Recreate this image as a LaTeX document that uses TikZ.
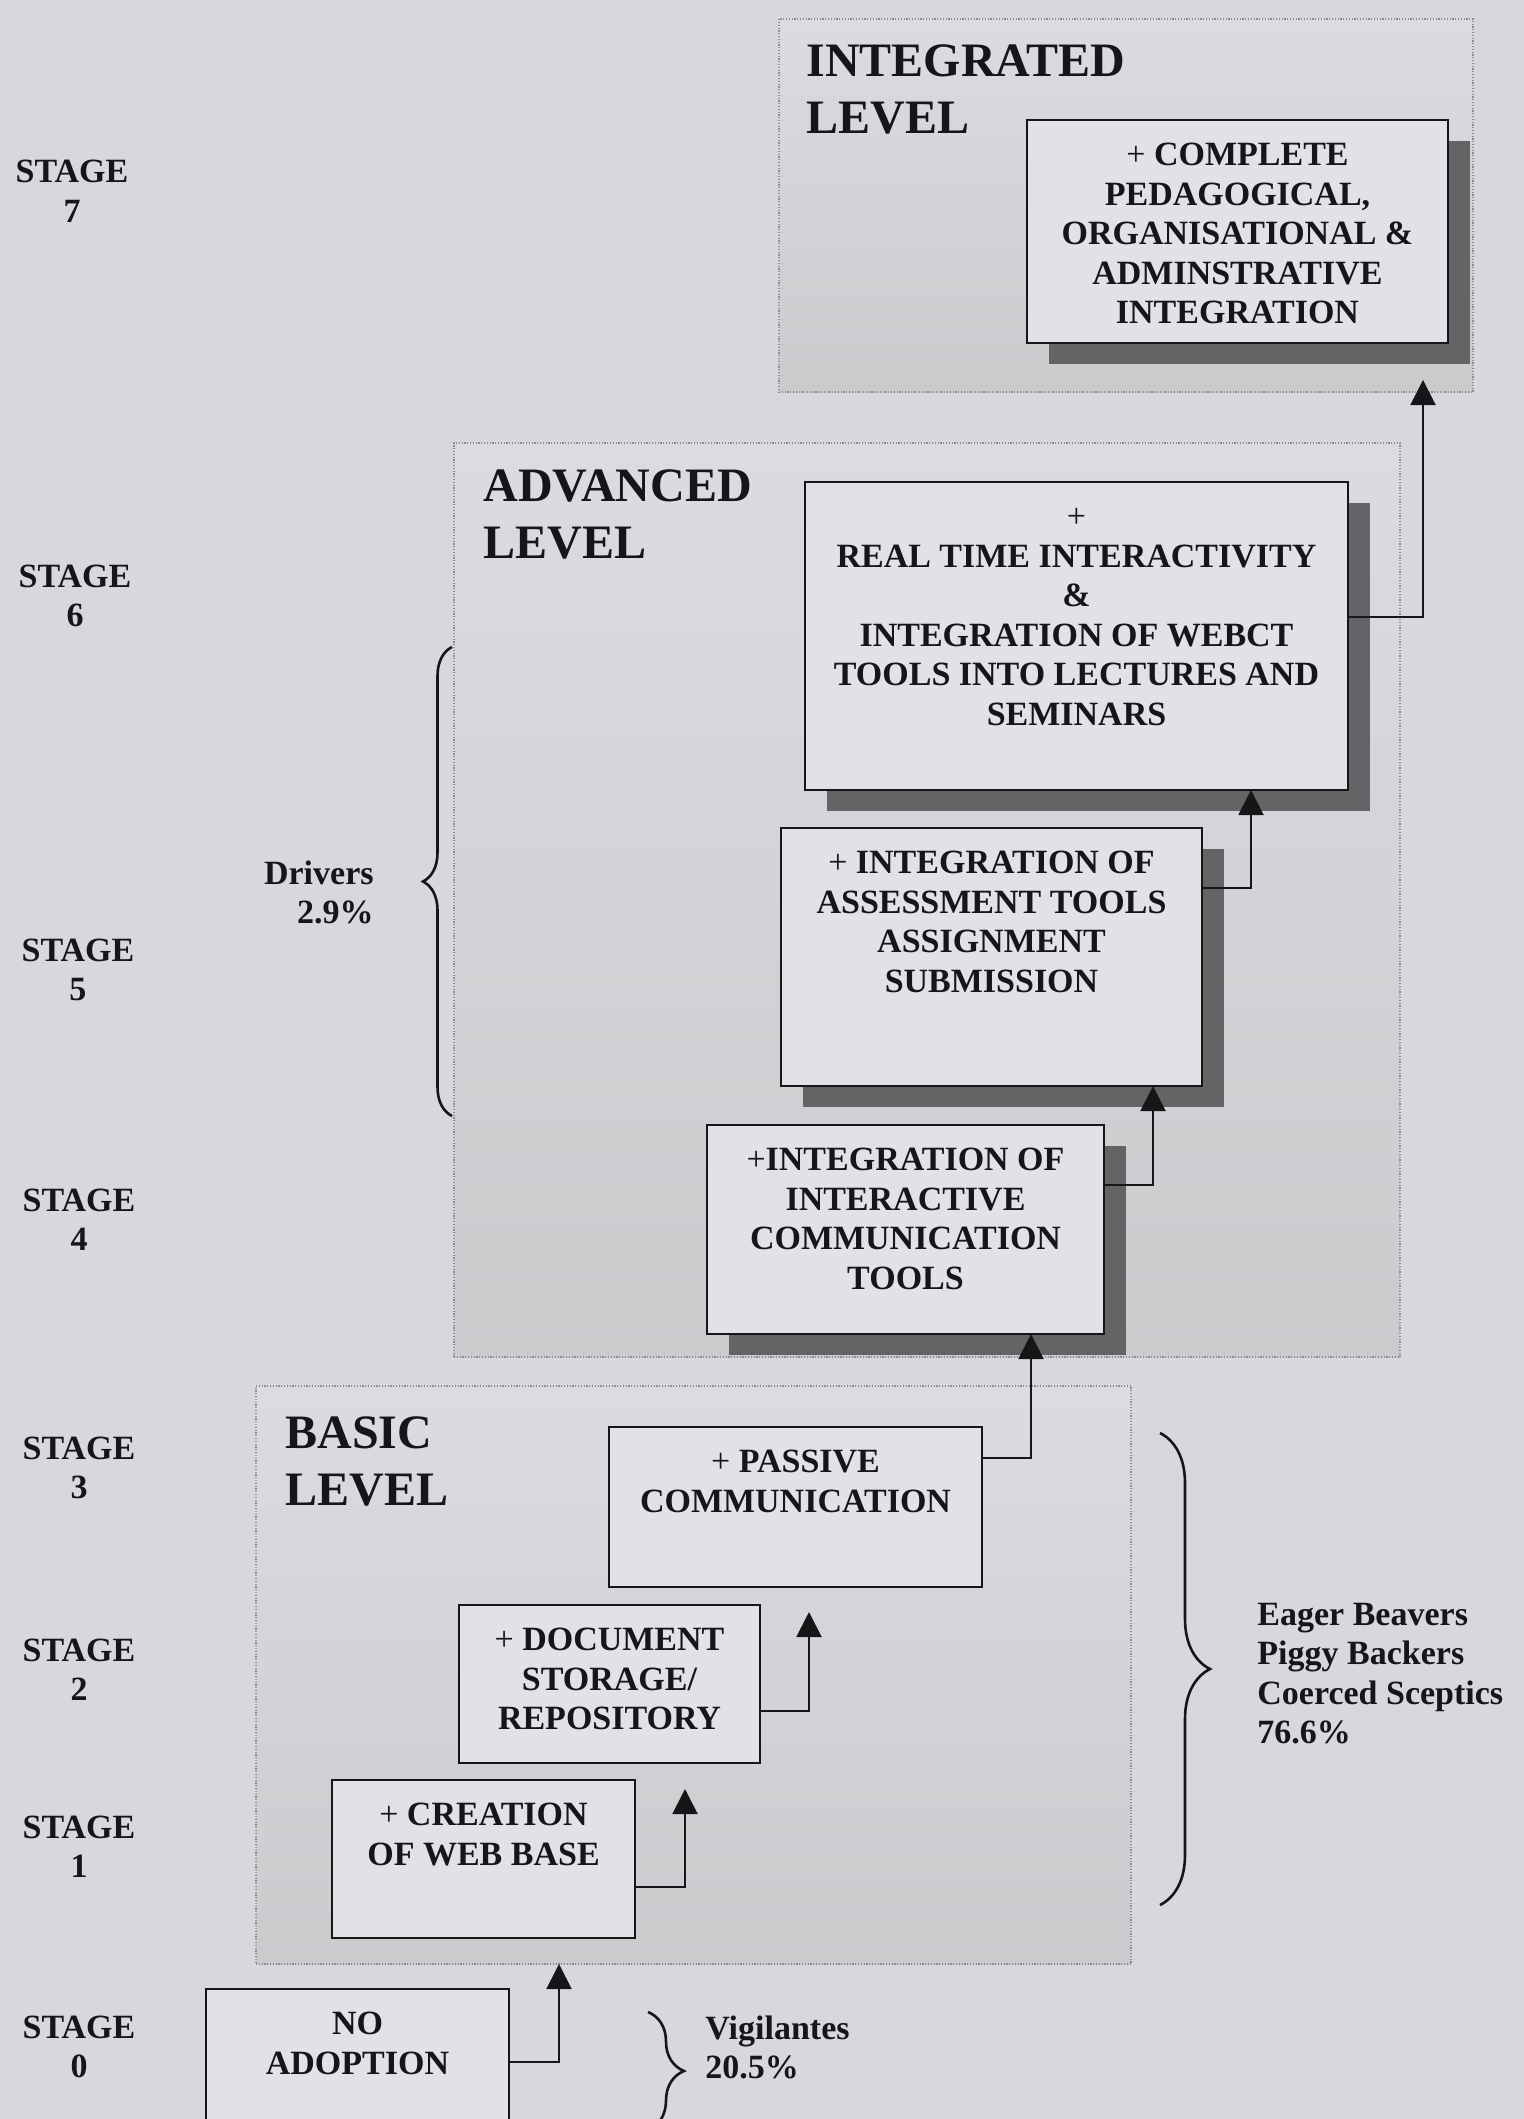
\documentclass[tikz,border=0pt]{standalone}
\usepackage{fontspec}
\setmainfont{Liberation Serif}
\usetikzlibrary{arrows.meta,decorations.pathreplacing,fit}

\definecolor{pagebg}{RGB}{217,215,222}
\definecolor{boxfill}{RGB}{226,225,230}
\definecolor{shadowgray}{RGB}{100,100,103}
\definecolor{paneltop}{RGB}{220,219,224}
\definecolor{panelbottom}{RGB}{203,203,206}
\definecolor{paneledge}{RGB}{140,140,145}
\definecolor{ink}{RGB}{22,22,25}

\newcommand{\boxfont}{\fontsize{17}{19.8}\selectfont\bfseries}
\newcommand{\levelfont}{\fontsize{24}{28.5}\selectfont\bfseries}
\newcommand{\lines}[2]{\begin{tabular}[t]{@{}#1@{}}#2\end{tabular}}

\tikzset{
  panel/.style={draw=paneledge, line width=0.8pt, dash pattern=on 0.6pt off 0.8pt,
    top color=paneltop, bottom color=panelbottom, inner sep=0pt, outer sep=0pt},
  stagebox/.style={draw=ink, line width=1.3pt, fill=boxfill, inner sep=0pt, outer sep=0pt},
  boxshadow/.style={fill=shadowgray},
  boxtext/.style={font=\boxfont, text=ink, anchor=base, inner sep=0pt},
  leveltext/.style={font=\levelfont, text=ink, anchor=base west, inner sep=0pt},
  sidetext/.style={font=\boxfont, text=ink, inner sep=0pt},
  link/.style={draw=ink, line width=1pt, -{Triangle[length=12.5pt,width=12.5pt]}},
  curly/.style={draw=ink, line width=1.3pt, decorate, decoration={brace, amplitude=#1}},
}

\begin{document}
\begin{tikzpicture}[x=0.5pt,y=-0.5pt]
\path[use as bounding box, fill=pagebg] (0,0) rectangle (1524,2119);

% ---- level panels ----
\coordinate (ip1) at (779,19);   \coordinate (ip2) at (1473,392);
\coordinate (ap1) at (454,443);  \coordinate (ap2) at (1400,1357);
\coordinate (bp1) at (256,1386); \coordinate (bp2) at (1131,1964);
\node[panel, fit=(ip1)(ip2)] (intp) {};
\node[panel, fit=(ap1)(ap2)] (advp) {};
\node[panel, fit=(bp1)(bp2)] (basp) {};

\node[leveltext] (intt) at (806,77)   {\lines{l}{INTEGRATED\\LEVEL}};
\node[leveltext] (advt) at (483,501)  {\lines{l}{ADVANCED\\LEVEL}};
\node[leveltext] (bast) at (285,1448) {\lines{l}{BASIC\\LEVEL}};

% ---- box corners ----
\coordinate (b7a) at (1027,120);  \coordinate (b7b) at (1448,343);
\coordinate (b6a) at (805,482);   \coordinate (b6b) at (1348,790);
\coordinate (b5a) at (781,828);   \coordinate (b5b) at (1202,1086);
\coordinate (b4a) at (707,1125);  \coordinate (b4b) at (1104,1334);
\coordinate (b3a) at (609,1427);  \coordinate (b3b) at (982,1587);
\coordinate (b2a) at (459,1605);  \coordinate (b2b) at (760,1763);
\coordinate (b1a) at (332,1780);  \coordinate (b1b) at (635,1938);
\coordinate (b0a) at (206,1989);  \coordinate (b0b) at (509,2150);

% ---- drop shadows of the upper stages ----
\foreach \b in {b7,b6,b5,b4}
  \fill[boxshadow] ([shift={(22,21)}]\b a) rectangle ([shift={(22,21)}]\b b);

% ---- stage boxes ----
\foreach \b in {b7,b6,b5,b4,b3,b2,b1,b0}
  \node[stagebox, fit=(\b a)(\b b)] (\b) {};

\node[boxtext] (b7t) at ([yshift=-22.75pt]b7.north)
  {\lines{c}{\textmd{+} COMPLETE\\PEDAGOGICAL,\\ORGANISATIONAL \&\\ADMINSTRATIVE\\INTEGRATION}};
\node[boxtext] (b6t) at ([yshift=-22.75pt]b6.north)
  {\lines{c}{\textmd{+}\\REAL TIME INTERACTIVITY\\\&\\INTEGRATION OF WEBCT\\TOOLS INTO LECTURES AND\\SEMINARS}};
\node[boxtext] (b5t) at ([yshift=-22.75pt]b5.north)
  {\lines{c}{\textmd{+} INTEGRATION OF\\ASSESSMENT TOOLS\\ASSIGNMENT\\SUBMISSION}};
\node[boxtext] (b4t) at ([yshift=-22.75pt]b4.north)
  {\lines{c}{\textmd{+}INTEGRATION OF\\INTERACTIVE\\COMMUNICATION\\TOOLS}};
\node[boxtext] (b3t) at ([yshift=-22.75pt]b3.north)
  {\lines{c}{\textmd{+} PASSIVE\\COMMUNICATION}};
\node[boxtext] (b2t) at ([yshift=-22.75pt]b2.north)
  {\lines{c}{\textmd{+} DOCUMENT\\STORAGE/\\REPOSITORY}};
\node[boxtext] (b1t) at ([yshift=-22.75pt]b1.north)
  {\lines{c}{\textmd{+} CREATION\\OF WEB BASE}};
\node[boxtext] (b0t) at ([yshift=-22.75pt]b0.north)
  {\lines{c}{NO\\ADOPTION}};

% ---- elbow points and free arrow ends ----
\coordinate (e0) at (559,2062);
\coordinate (e1) at (685,1887);  \coordinate (t1) at (685,1789);
\coordinate (e2) at (809,1711);  \coordinate (t2) at (809,1612);
\coordinate (e3) at (1031,1458);
\coordinate (e4) at (1153,1185);
\coordinate (e5) at (1251,888);
\coordinate (e6) at (1423,617);  \coordinate (t6) at (1423,380);

\draw[link] (b0.east |- e0) -- (e0) -- (e0 |- basp.south);
\draw[link] (b1.east |- e1) -- (e1) -- (t1);
\draw[link] (b2.east |- e2) -- (e2) -- (t2);
\draw[link] (b3.east |- e3) -- (e3) -- (e3 |- b4.south);
\draw[link] (b4.east |- e4) -- (e4) -- (e4 |- b5.south);
\draw[link] (b5.east |- e5) -- (e5) -- (e5 |- b6.south);
\draw[link] (b6.east |- e6) -- (e6) -- (t6);

% ---- stage labels ----
\node[sidetext, anchor=base] (s7) at (72,183)  {\lines{c}{STAGE\\7}};
\node[sidetext, anchor=base] (s6) at (75,587)  {\lines{c}{STAGE\\6}};
\node[sidetext, anchor=base] (s5) at (78,961)  {\lines{c}{STAGE\\5}};
\node[sidetext, anchor=base] (s4) at (79,1211) {\lines{c}{STAGE\\4}};
\node[sidetext, anchor=base] (s3) at (79,1459) {\lines{c}{STAGE\\3}};
\node[sidetext, anchor=base] (s2) at (79,1661) {\lines{c}{STAGE\\2}};
\node[sidetext, anchor=base] (s1) at (79,1838) {\lines{c}{STAGE\\1}};
\node[sidetext, anchor=base] (s0) at (79,2038) {\lines{c}{STAGE\\0}};

% ---- adopter groups ----
\coordinate (drvA) at (452,1116); \coordinate (drvB) at (452,647);
\draw[curly=14.5pt] (drvA) -- (drvB);
\node[sidetext, anchor=base east] (drv) at (374,884) {\lines{r}{Drivers\\2.9\%}};

\coordinate (eagA) at (1160,1433); \coordinate (eagB) at (1160,1905);
\draw[curly=25pt] (eagA) -- (eagB);
\node[sidetext, anchor=base west] (eag) at (1257,1625)
  {\lines{l}{Eager Beavers\\Piggy Backers\\Coerced Sceptics\\76.6\%}};

\coordinate (vigA) at (648,2012); \coordinate (vigB) at (648,2130);
\draw[curly=18pt] (vigA) -- (vigB);
\node[sidetext, anchor=base west] (vig) at (705,2039) {\lines{l}{Vigilantes\\20.5\%}};
\end{tikzpicture}
\end{document}
